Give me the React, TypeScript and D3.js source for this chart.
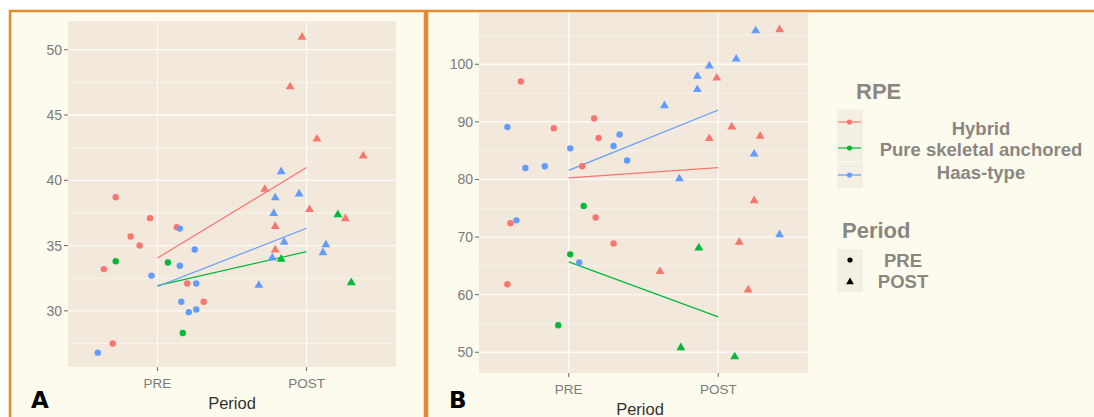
import React, { useEffect, useRef } from 'react';
import * as d3 from 'd3';

const groups = ['Hybrid', 'Pure skeletal anchored', 'Haas-type'];
const groupColors = ['#F8766D', '#00BA38', '#619CFF'];
const periods = ['PRE', 'POST'];

// rows: [group, period, jitter, value]
const pointsA: [number, number, number, number][] = [
  [0, 0, -0.28, 38.7], [0, 0, -0.05, 37.1], [0, 0, -0.18, 35.7], [0, 0, -0.12, 35.0], [0, 0, -0.36, 33.2],
  [0, 0, -0.30, 27.5], [0, 0, 0.13, 36.4], [0, 0, 0.20, 32.1], [0, 0, 0.31, 30.7],
  [1, 0, -0.28, 33.8], [1, 0, 0.07, 33.7], [1, 0, 0.17, 28.3],
  [2, 0, -0.04, 32.7], [2, 0, -0.40, 26.8], [2, 0, 0.15, 36.3], [2, 0, 0.15, 33.45], [2, 0, 0.25, 34.7],
  [2, 0, 0.26, 32.1], [2, 0, 0.16, 30.7], [2, 0, 0.21, 29.9], [2, 0, 0.26, 30.1],
  [0, 1, -0.03, 51.0], [0, 1, -0.11, 47.2], [0, 1, 0.07, 43.2], [0, 1, 0.38, 41.9], [0, 1, -0.28, 39.35],
  [0, 1, 0.02, 37.8], [0, 1, -0.21, 36.5], [0, 1, -0.21, 34.7], [0, 1, 0.26, 37.1],
  [1, 1, -0.17, 34.0], [1, 1, 0.21, 37.4], [1, 1, 0.30, 32.2],
  [2, 1, -0.17, 40.7], [2, 1, -0.21, 38.7], [2, 1, -0.05, 39.0], [2, 1, -0.22, 37.5], [2, 1, -0.15, 35.3],
  [2, 1, -0.23, 34.1], [2, 1, -0.32, 32.0], [2, 1, 0.13, 35.1], [2, 1, 0.11, 34.5],
];

const pointsB: [number, number, number, number][] = [
  [0, 0, -0.32, 97.0], [0, 0, -0.10, 88.9], [0, 0, 0.09, 82.3], [0, 0, 0.17, 90.6], [0, 0, 0.20, 87.2],
  [0, 0, -0.39, 72.4], [0, 0, 0.18, 73.4], [0, 0, 0.30, 68.9], [0, 0, -0.41, 61.8],
  [1, 0, 0.10, 75.4], [1, 0, 0.01, 67.0], [1, 0, -0.07, 54.7],
  [2, 0, -0.41, 89.1], [2, 0, -0.29, 82.0], [2, 0, -0.16, 82.3], [2, 0, 0.01, 85.4], [2, 0, 0.30, 85.8],
  [2, 0, 0.34, 87.8], [2, 0, 0.39, 83.3], [2, 0, -0.35, 72.9], [2, 0, 0.07, 65.6],
  [0, 1, -0.01, 97.7], [0, 1, -0.06, 87.2], [0, 1, 0.09, 89.2], [0, 1, 0.41, 106.1], [0, 1, 0.28, 87.6],
  [0, 1, 0.24, 76.4], [0, 1, -0.39, 64.1], [0, 1, 0.14, 69.2], [0, 1, 0.20, 60.9],
  [1, 1, -0.13, 68.2], [1, 1, -0.25, 50.9], [1, 1, 0.11, 49.3],
  [2, 1, -0.36, 92.9], [2, 1, -0.26, 80.2], [2, 1, -0.14, 98.0], [2, 1, -0.14, 95.7], [2, 1, -0.06, 99.8],
  [2, 1, 0.12, 101.0], [2, 1, 0.25, 105.9], [2, 1, 0.24, 84.5], [2, 1, 0.41, 70.5],
];

const ticksA = [30, 35, 40, 45, 50];
const minorA = [27.5, 32.5, 37.5, 42.5, 47.5];
const ticksB = [50, 60, 70, 80, 90, 100];
const minorB = [55, 65, 75, 85, 95, 105];

const FONT = "'Liberation Sans', Arial, sans-serif";

export default function App() {
  const svgRef = useRef<SVGSVGElement>(null);

  useEffect(() => {
    if (!svgRef.current) return;
    const svg = d3.select(svgRef.current);
    svg.selectAll('*').remove();

    const W = 1094, H = 417;
    svg.append('rect').attr('width', W).attr('height', H).attr('fill', '#ffffff');

    // outer frames
    svg.append('rect').attr('x', 10).attr('y', 11).attr('width', 415).attr('height', 420)
      .attr('fill', '#fdfbee').attr('stroke', '#e8892f').attr('stroke-width', 2.5);
    svg.append('rect').attr('x', 427).attr('y', 11).attr('width', 680).attr('height', 420)
      .attr('fill', '#fdfbee').attr('stroke', '#e8892f').attr('stroke-width', 2.5);

    const tri = d3.symbol().type(d3.symbolTriangle).size(34);

    function panel(opts: {
      data: [number, number, number, number][]; left: number; right: number; top: number; bottom: number;
      yDomain: [number, number]; ticks: number[]; minor: number[]; letter: string; letterX: number;
      xLabY: number; titleY: number; titleX: number;
    }) {
      const { data, left, right, top, bottom } = opts;
      const x = d3.scaleLinear().domain([0.4, 2.6]).range([left, right]);
      const y = d3.scaleLinear().domain(opts.yDomain).range([bottom, top]);
      const g = svg.append('g');

      g.append('rect').attr('x', left).attr('y', top).attr('width', right - left).attr('height', bottom - top)
        .attr('fill', '#f2e9dc');

      g.selectAll('.minor').data(opts.minor).enter().append('line')
        .attr('x1', left).attr('x2', right).attr('y1', d => y(d)).attr('y2', d => y(d))
        .attr('stroke', '#fbf8f2').attr('stroke-width', 0.7);
      g.selectAll('.major').data(opts.ticks).enter().append('line')
        .attr('x1', left).attr('x2', right).attr('y1', d => y(d)).attr('y2', d => y(d))
        .attr('stroke', '#fdfbf7').attr('stroke-width', 1.3);
      g.selectAll('.vmajor').data([1, 2]).enter().append('line')
        .attr('x1', d => x(d)).attr('x2', d => x(d)).attr('y1', top).attr('y2', bottom)
        .attr('stroke', '#fdfbf7').attr('stroke-width', 1.3);

      // y axis
      g.selectAll('.ytick').data(opts.ticks).enter().append('line')
        .attr('x1', left - 4).attr('x2', left).attr('y1', d => y(d)).attr('y2', d => y(d))
        .attr('stroke', '#666').attr('stroke-width', 1);
      g.selectAll('.ylab').data(opts.ticks).enter().append('text')
        .attr('x', left - 6).attr('y', d => y(d) + 5).attr('text-anchor', 'end')
        .attr('font-family', FONT).attr('font-size', 14).attr('fill', '#7a7a7a').text(d => d);

      // x axis
      g.selectAll('.xtick').data([1, 2]).enter().append('line')
        .attr('x1', d => x(d)).attr('x2', d => x(d)).attr('y1', bottom).attr('y2', bottom + 4)
        .attr('stroke', '#666').attr('stroke-width', 1);
      g.selectAll('.xlab').data(periods).enter().append('text')
        .attr('x', (_, i) => x(i + 1)).attr('y', opts.xLabY).attr('text-anchor', 'middle')
        .attr('font-family', FONT).attr('font-size', 13.5).attr('fill', '#7a7a7a').text(d => d);
      g.append('text').attr('x', opts.titleX).attr('y', opts.titleY).attr('text-anchor', 'middle')
        .attr('font-family', FONT).attr('font-size', 16.5).attr('fill', '#333').text('Period');

      g.append('text').attr('x', opts.letterX).attr('y', 408).attr('font-family', "'DejaVu Sans', sans-serif")
        .attr('font-weight', 'bold').attr('font-size', 23).attr('fill', '#000').text(opts.letter);

      // group means lines
      groups.forEach((_, gi) => {
        const m = [0, 1].map(p => d3.mean(data.filter(d => d[0] === gi && d[1] === p), d => d[3]) as number);
        g.append('line').attr('x1', x(1)).attr('y1', y(m[0])).attr('x2', x(2)).attr('y2', y(m[1]))
          .attr('stroke', groupColors[gi]).attr('stroke-width', 1.2);
      });

      // points
      data.forEach(d => {
        const cx = x(d[1] + 1 + d[2]);
        const cy = y(d[3]);
        if (d[1] === 0) {
          g.append('circle').attr('cx', cx).attr('cy', cy).attr('r', 3.2).attr('fill', groupColors[d[0]]);
        } else {
          g.append('path').attr('d', tri).attr('transform', `translate(${cx},${cy + 0.5})`).attr('fill', groupColors[d[0]]);
        }
      });
    }

    panel({ data: pointsA, left: 68, right: 396, top: 21, bottom: 367, yDomain: [25.7, 52.2], ticks: ticksA,
      minor: minorA, letter: 'A', letterX: 31, xLabY: 388, titleY: 409, titleX: 232 });
    panel({ data: pointsB, left: 479, right: 808, top: 13, bottom: 373, yDomain: [46.4, 108.9], ticks: ticksB,
      minor: minorB, letter: 'B', letterX: 449, xLabY: 394, titleY: 415, titleX: 640 });

    // legend
    const lg = svg.append('g');
    lg.append('text').attr('x', 856).attr('y', 99).attr('font-family', FONT).attr('font-weight', 'bold')
      .attr('font-size', 22).attr('fill', '#8a8782').text('RPE');
    const keyY = [122, 148, 175];
    const labY = [128, 149, 172];
    groups.forEach((name, i) => {
      const cy = keyY[i];
      lg.append('rect').attr('x', 837).attr('y', cy - 13).attr('width', 26).attr('height', 26).attr('fill', '#f4efe3');
      lg.append('line').attr('x1', 838).attr('x2', 861).attr('y1', cy).attr('y2', cy)
        .attr('stroke', groupColors[i]).attr('stroke-width', 1.2);
      lg.append('circle').attr('cx', 849.5).attr('cy', cy).attr('r', 2.6).attr('fill', groupColors[i]);
      lg.append('text').attr('x', 981).attr('y', labY[i] + 6.5).attr('text-anchor', 'middle').attr('font-family', FONT)
        .attr('font-weight', 'bold').attr('font-size', 18.5).attr('fill', '#8a8782').text(name);
    });
    lg.append('text').attr('x', 842).attr('y', 238).attr('font-family', FONT).attr('font-weight', 'bold')
      .attr('font-size', 22).attr('fill', '#8a8782').text('Period');
    const pKeyY = [260, 281];
    periods.forEach((name, i) => {
      const cy = pKeyY[i];
      lg.append('rect').attr('x', 837).attr('y', cy - 11).attr('width', 26).attr('height', 22).attr('fill', '#f4efe3');
      if (i === 0) lg.append('circle').attr('cx', 850).attr('cy', cy).attr('r', 2.6).attr('fill', '#000');
      else lg.append('path').attr('d', d3.symbol().type(d3.symbolTriangle).size(26)).attr('transform', `translate(850,${cy + 1})`).attr('fill', '#000');
      lg.append('text').attr('x', 903).attr('y', cy + 6.5).attr('text-anchor', 'middle').attr('font-family', FONT)
        .attr('font-weight', 'bold').attr('font-size', 18.5).attr('fill', '#8a8782').text(name);
    });
  }, []);

  return (
    <svg ref={svgRef} width={1094} height={417} viewBox="0 0 1094 417"
      style={{ position: 'absolute', left: 0, top: 0, display: 'block' }}></svg>
  );
}
